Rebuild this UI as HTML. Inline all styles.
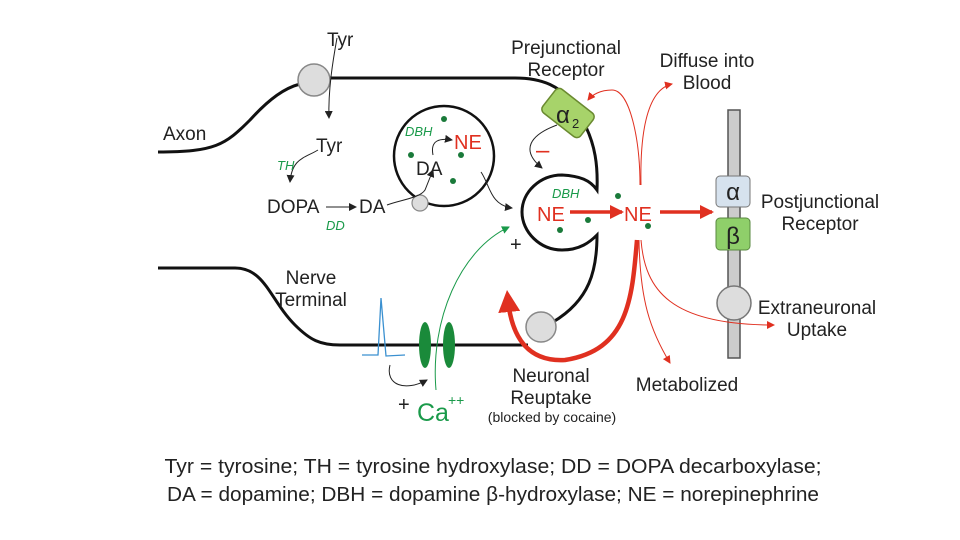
<!DOCTYPE html>
<html><head><meta charset="utf-8"><style>
body{margin:0;background:#fff}
svg{display:block}
text{font-family:"Liberation Sans",sans-serif}
</style></head><body>
<svg width="960" height="540" viewBox="0 0 960 540" xmlns="http://www.w3.org/2000/svg">
<defs>
<marker id="ak" markerWidth="8" markerHeight="8" refX="7" refY="4" orient="auto" markerUnits="userSpaceOnUse"><path d="M0,0 L8,4 L0,8 z" fill="#222"/></marker>
<marker id="ag" markerWidth="8" markerHeight="8" refX="7" refY="4" orient="auto" markerUnits="userSpaceOnUse"><path d="M0,0 L8,4 L0,8 z" fill="#1a9a4a"/></marker>
<marker id="ar" markerWidth="8" markerHeight="8" refX="7" refY="4" orient="auto" markerUnits="userSpaceOnUse"><path d="M0,0 L8,4 L0,8 z" fill="#e03020"/></marker>
<marker id="arb" markerWidth="14" markerHeight="14" refX="12" refY="7" orient="auto" markerUnits="userSpaceOnUse"><path d="M0,0 L14,7 L0,14 z" fill="#e03020"/></marker>
<marker id="arbig" markerWidth="22" markerHeight="22" refX="12" refY="11" orient="auto" markerUnits="userSpaceOnUse"><path d="M0,0 L22,11 L0,22 z" fill="#e03020"/></marker>
</defs>
<g fill="none" stroke="#111" stroke-width="3">
<path d="M158,152 C215,152 225,145 250,120 C270,98 285,88 300,84"/>
<path d="M330,78 L515,78 C545,78 560,88 570,100"/>
<path d="M585,125 C595,145 598,165 597,190 C590,180 580,176 562,175 C540,175 522,192 522,212 C522,232 540,250 562,250 C580,250 590,242 597,235 C597,270 590,300 553,322"/>
<path d="M158,268 L235,268 C265,268 270,300 295,325 C310,340 320,345 340,345 L528,345"/>
<circle cx="444" cy="156" r="50" stroke-width="2.5"/>
</g>
<circle cx="314" cy="80" r="16" fill="#ddd" stroke="#888" stroke-width="1.5"/>
<circle cx="420" cy="203" r="8" fill="#ddd" stroke="#888" stroke-width="1.2"/>
<circle cx="541" cy="327" r="15" fill="#ddd" stroke="#888" stroke-width="1.5"/>
<g transform="translate(568,113) rotate(38)"><rect x="-24" y="-15" width="48" height="30" rx="5" fill="#a7d36a" stroke="#6a8a30" stroke-width="1.5"/></g>
<text x="556" y="123" font-family="Liberation Serif,serif" font-size="24" fill="#222">α</text><text x="572" y="128" font-size="13" fill="#222">2</text>
<rect x="728" y="110" width="12" height="248" fill="#ccc" stroke="#555" stroke-width="1.5"/>
<rect x="716" y="176" width="34" height="31" rx="4" fill="#d6e2ee" stroke="#777"/>
<rect x="716" y="218" width="34" height="32" rx="4" fill="#8fcf6a" stroke="#5a8a40"/>
<text x="733" y="200" text-anchor="middle" font-family="Liberation Serif,serif" font-size="24" fill="#222">α</text>
<text x="733" y="244" text-anchor="middle" font-family="Liberation Serif,serif" font-size="24" fill="#222">β</text>
<circle cx="734" cy="303" r="17" fill="#ddd" stroke="#777" stroke-width="1.5"/>
<ellipse cx="425" cy="345" rx="6" ry="23" fill="#1a8a3a"/>
<ellipse cx="449" cy="345" rx="6" ry="23" fill="#1a8a3a"/>
<path d="M362,355 L378,355 L381,298 L386,356 L405,355" fill="none" stroke="#3a90d0" stroke-width="1.3"/>
<g fill="none" stroke="#222" stroke-width="1" marker-end="url(#ak)">
<path d="M337,38 C333,60 328,90 329,118"/>
<path d="M318,150 C305,158 292,158 290,182"/>
<path d="M326,207 L356,207"/>
<path d="M387,205 C400,200 420,198 425,190 L433,170"/>
<path d="M433,155 C430,140 440,138 452,140"/>
<path d="M481,172 C490,185 490,205 512,208"/>
<path d="M557,125 C530,135 520,150 542,168"/>
<path d="M390,365 C385,385 405,392 427,380"/>
</g>
<path d="M436,390 C430,320 460,250 509,227" fill="none" stroke="#1a9a4a" stroke-width="1" marker-end="url(#ag)"/>
<path d="M570,212 L622,212" stroke="#e03020" stroke-width="3.5" marker-end="url(#arb)"/>
<path d="M660,212 L712,212" stroke="#e03020" stroke-width="3.5" marker-end="url(#arb)"/>
<g fill="none" stroke="#e03020" stroke-width="1" marker-end="url(#ar)">
<path d="M640,185 C640,140 630,90 612,90 C600,90 592,95 588,100"/>
<path d="M641,185 C640,140 645,90 672,84"/>
<path d="M641,240 C645,290 670,325 774,325"/>
<path d="M639,240 C640,300 650,330 670,363"/>
</g>
<path d="M637,240 C632,300 628,350 565,360 C530,362 512,340 508,300" fill="none" stroke="#e03020" stroke-width="4.5" marker-end="url(#arbig)"/>
<g fill="#1a7a3a">
<circle cx="444" cy="119" r="3"/><circle cx="411" cy="155" r="3"/><circle cx="461" cy="155" r="3"/><circle cx="453" cy="181" r="3"/>
<circle cx="618" cy="196" r="3"/><circle cx="588" cy="220" r="3"/><circle cx="560" cy="230" r="3"/><circle cx="648" cy="226" r="3"/>
</g>
<g font-size="19" fill="#222">
<text x="327" y="46">Tyr</text>
<text x="163" y="140">Axon</text>
<text x="316" y="152">Tyr</text>
<text x="267" y="213">DOPA</text>
<text x="359" y="213">DA</text>
<text x="416" y="175">DA</text>
<text x="566" y="54" text-anchor="middle">Prejunctional</text>
<text x="566" y="76" text-anchor="middle">Receptor</text>
<text x="707" y="67" text-anchor="middle">Diffuse into</text>
<text x="707" y="89" text-anchor="middle">Blood</text>
<text x="820" y="208" text-anchor="middle">Postjunctional</text>
<text x="820" y="230" text-anchor="middle">Receptor</text>
<text x="817" y="314" text-anchor="middle">Extraneuronal</text>
<text x="817" y="336" text-anchor="middle">Uptake</text>
<text x="687" y="391" text-anchor="middle">Metabolized</text>
<text x="551" y="382" text-anchor="middle">Neuronal</text>
<text x="551" y="404" text-anchor="middle">Reuptake</text>
<text x="311" y="284" text-anchor="middle">Nerve</text>
<text x="311" y="306" text-anchor="middle">Terminal</text>
<text x="552" y="422" text-anchor="middle" font-size="14">(blocked by cocaine)</text>
<text x="510" y="251" font-size="20">+</text>
<text x="398" y="411" font-size="20">+</text>
</g>
<g fill="#e03020" font-size="20">
<text x="454" y="149">NE</text>
<text x="537" y="221">NE</text>
<text x="624" y="221">NE</text>
<text x="536" y="158" font-size="24">–</text>
</g>
<g fill="#1a9a4a" font-style="italic" font-size="13">
<text x="277" y="170">TH</text>
<text x="326" y="230">DD</text>
<text x="405" y="136">DBH</text>
<text x="552" y="198">DBH</text>
</g>
<text x="417" y="421" fill="#1a9a4a" font-size="25">Ca</text><text x="448" y="405" fill="#1a9a4a" font-size="14">++</text>
<g font-size="20" fill="#222" text-anchor="middle">
<text x="493" y="473" textLength="657" lengthAdjust="spacingAndGlyphs">Tyr = tyrosine; TH = tyrosine hydroxylase; DD = DOPA decarboxylase;</text>
<text x="493" y="501" textLength="652" lengthAdjust="spacingAndGlyphs">DA = dopamine; DBH = dopamine β-hydroxylase; NE = norepinephrine</text>
</g>
</svg>
</body></html>
